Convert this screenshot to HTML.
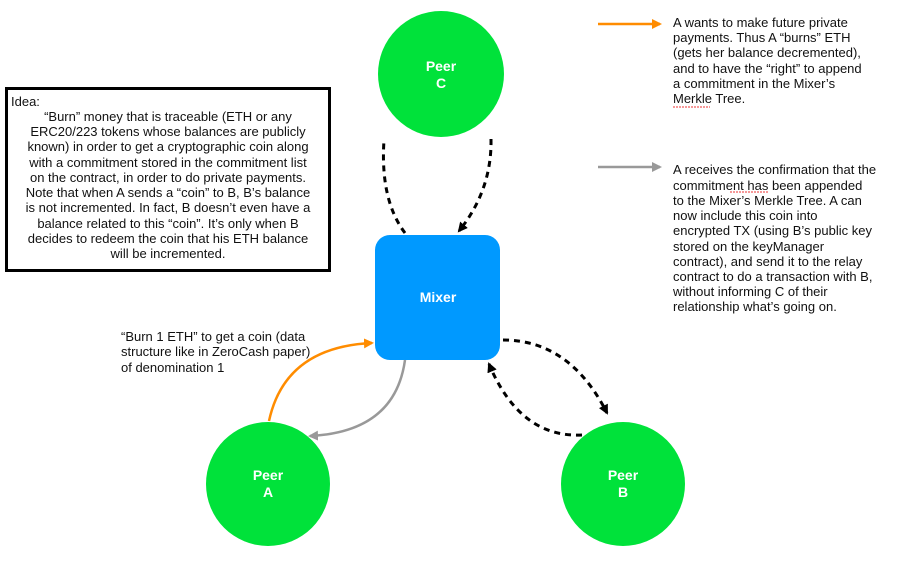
<!DOCTYPE html>
<html><head><meta charset="utf-8"><style>
html,body{margin:0;padding:0;background:#fff;}
svg{display:block;font-family:"Liberation Sans",Arial,sans-serif;}
</style></head><body>
<svg width="908" height="584" viewBox="0 0 908 584" xmlns="http://www.w3.org/2000/svg">
<defs>
<marker id="ab" markerWidth="10" markerHeight="10" refX="8" refY="5" orient="auto" markerUnits="userSpaceOnUse"><path d="M0,0 L10,5 L0,10 z" fill="#000"/></marker>
<marker id="ao" markerWidth="10" markerHeight="10" refX="8" refY="5" orient="auto" markerUnits="userSpaceOnUse"><path d="M0,0 L10,5 L0,10 z" fill="#ff8c00"/></marker>
<marker id="ag" markerWidth="10" markerHeight="10" refX="8" refY="5" orient="auto" markerUnits="userSpaceOnUse"><path d="M0,0 L10,5 L0,10 z" fill="#999"/></marker>
</defs>
<!-- idea box -->
<rect x="6.5" y="88.5" width="323" height="182" fill="#fff" stroke="#000" stroke-width="3"/>
<g font-size="13" fill="#111">
<text x="11" y="106">Idea:</text>
<g text-anchor="middle">
<text x="168" y="121">“Burn” money that is traceable (ETH or any</text>
<text x="168" y="136">ERC20/223 tokens whose balances are publicly</text>
<text x="168" y="151">known) in order to get a cryptographic coin along</text>
<text x="168" y="167">with a commitment stored in the commitment list</text>
<text x="168" y="182">on the contract, in order to do private payments.</text>
<text x="168" y="197">Note that when A sends a “coin” to B, B’s balance</text>
<text x="168" y="212">is not incremented. In fact, B doesn’t even have a</text>
<text x="168" y="228">balance related to this “coin”. It’s only when B</text>
<text x="168" y="243">decides to redeem the coin that his ETH balance</text>
<text x="168" y="258">will be incremented.</text>
</g>
<text x="121" y="341">“Burn 1 ETH” to get a coin (data</text>
<text x="121" y="356">structure like in ZeroCash paper)</text>
<text x="121" y="372">of denomination 1</text>
<text x="673" y="27">A wants to make future private</text>
<text x="673" y="42">payments. Thus A “burns” ETH</text>
<text x="673" y="57">(gets her balance decremented),</text>
<text x="673" y="73">and to have the “right” to append</text>
<text x="673" y="88">a commitment in the Mixer’s</text>
<text x="673" y="103">Merkle Tree.</text>
<text x="673" y="174">A receives the confirmation that the</text>
<text x="673" y="190">commitment has been appended</text>
<text x="673" y="205">to the Mixer’s Merkle Tree. A can</text>
<text x="673" y="220">now include this coin into</text>
<text x="673" y="235">encrypted TX (using B’s public key</text>
<text x="673" y="251">stored on the keyManager</text>
<text x="673" y="266">contract), and send it to the relay</text>
<text x="673" y="281">contract to do a transaction with B,</text>
<text x="673" y="296">without informing C of their</text>
<text x="673" y="311">relationship what’s going on.</text>
</g>
<path d="M673,107 h37 M730,192 h39" stroke="#e33" stroke-width="1" stroke-dasharray="2,1"/>
<!-- legend arrows -->
<line x1="598" y1="24" x2="660" y2="24" stroke="#ff8c00" stroke-width="2.5" marker-end="url(#ao)"/>
<line x1="598" y1="167" x2="660" y2="167" stroke="#999" stroke-width="2.5" marker-end="url(#ag)"/>
<!-- nodes -->
<circle cx="441" cy="74" r="63" fill="#00e23a"/>
<circle cx="268" cy="484" r="62" fill="#00e23a"/>
<circle cx="623" cy="484" r="62" fill="#00e23a"/>
<rect x="375" y="235" width="125" height="125" rx="15" fill="#0099ff"/>
<g fill="#fff" font-size="14" font-weight="bold" text-anchor="middle">
<text x="441" y="71">Peer</text><text x="441" y="88">C</text>
<text x="268" y="480">Peer</text><text x="268" y="497">A</text>
<text x="623" y="480">Peer</text><text x="623" y="497">B</text>
<text x="438" y="302">Mixer</text>
</g>
<!-- connectors -->
<g fill="none" stroke-width="3" stroke-dasharray="6,5">
<path d="M405,233 Q380,200 384,140" stroke="#000"/>
<path d="M491,139 Q492,190 459,231" stroke="#000" marker-end="url(#ab)"/>
<path d="M503,340 Q570,340 607,413" stroke="#000" marker-end="url(#ab)"/>
<path d="M582,435 Q520,438 489,364" stroke="#000" marker-end="url(#ab)"/>
</g>
<path d="M269,421 Q285,347 372,343" fill="none" stroke="#ff8c00" stroke-width="2.5" marker-end="url(#ao)"/>
<path d="M405,360 Q395,432 310,436" fill="none" stroke="#999" stroke-width="2.5" marker-end="url(#ag)"/>
</svg>
</body></html>
